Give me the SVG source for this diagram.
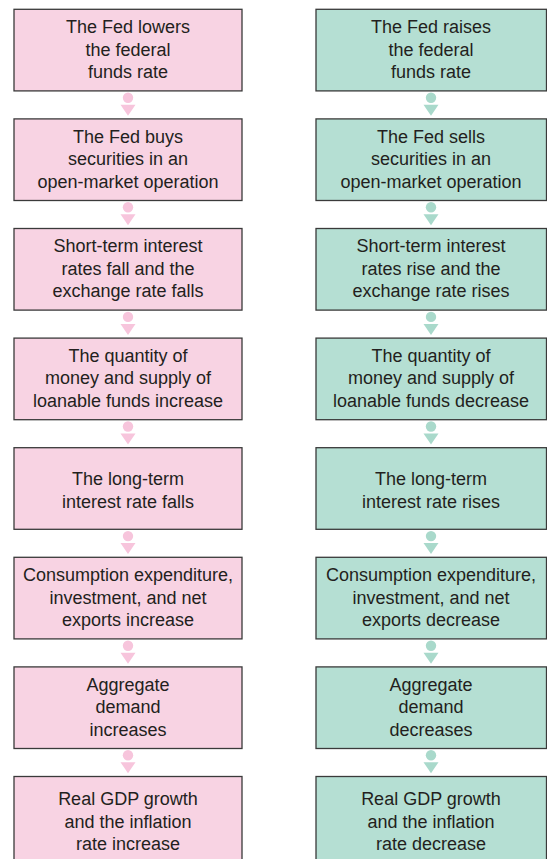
<svg xmlns="http://www.w3.org/2000/svg" width="547" height="859" viewBox="0 0 547 859">
<style>
.pk{fill:#f8d3e3;stroke:#3a3a3a;stroke-width:1.3}
.gr{fill:#b5dfd3;stroke:#3a3a3a;stroke-width:1.3}
.cp{fill:#f7c5dc}
.cg{fill:#a9d9cb}
text{font-family:"Liberation Sans",Arial,sans-serif;font-size:18px;fill:#231f20;text-anchor:middle}
</style>
<defs>
<g id="conP"><circle cx="0" cy="0" r="5.2" class="cp"/><path d="M-7.5,7 L7.5,7 L0,18 Z" class="cp"/></g>
<g id="conG"><circle cx="0" cy="0" r="5.2" class="cg"/><path d="M-7.5,7 L7.5,7 L0,18 Z" class="cg"/></g>
</defs>
<rect width="547" height="859" fill="#ffffff"/>
<g id="connectors">
<use href="#conP" x="128" y="97.7"/>
<use href="#conP" x="128" y="207.3"/>
<use href="#conP" x="128" y="316.9"/>
<use href="#conP" x="128" y="426.5"/>
<use href="#conP" x="128" y="536.1"/>
<use href="#conP" x="128" y="645.7"/>
<use href="#conP" x="128" y="755.3"/>
<use href="#conG" x="431" y="97.7"/>
<use href="#conG" x="431" y="207.3"/>
<use href="#conG" x="431" y="316.9"/>
<use href="#conG" x="431" y="426.5"/>
<use href="#conG" x="431" y="536.1"/>
<use href="#conG" x="431" y="645.7"/>
<use href="#conG" x="431" y="755.3"/>
</g>
<g id="L1"><rect class="pk" x="14" y="9.3" width="228" height="81.6"/><text x="128" y="33">The Fed lowers</text><text x="128" y="55.5">the federal</text><text x="128" y="78">funds rate</text></g>
<g id="L2"><rect class="pk" x="14" y="118.9" width="228" height="81.6"/><text x="128" y="142.6">The Fed buys</text><text x="128" y="165.1">securities in an</text><text x="128" y="187.6">open-market operation</text></g>
<g id="L3"><rect class="pk" x="14" y="228.5" width="228" height="81.6"/><text x="128" y="252.2">Short-term interest</text><text x="128" y="274.7">rates fall and the</text><text x="128" y="297.2">exchange rate falls</text></g>
<g id="L4"><rect class="pk" x="14" y="338.1" width="228" height="81.6"/><text x="128" y="361.8">The quantity of</text><text x="128" y="384.3">money and supply of</text><text x="128" y="406.8">loanable funds increase</text></g>
<g id="L5"><rect class="pk" x="14" y="447.7" width="228" height="81.6"/><text x="128" y="485">The long-term</text><text x="128" y="507.5">interest rate falls</text></g>
<g id="L6"><rect class="pk" x="14" y="557.3" width="228" height="81.6"/><text x="128" y="581">Consumption expenditure,</text><text x="128" y="603.5">investment, and net</text><text x="128" y="626">exports increase</text></g>
<g id="L7"><rect class="pk" x="14" y="666.9" width="228" height="81.6"/><text x="128" y="690.6">Aggregate</text><text x="128" y="713.1">demand</text><text x="128" y="735.6">increases</text></g>
<g id="L8"><rect class="pk" x="14" y="776.5" width="228" height="86"/><text x="128" y="805">Real GDP growth</text><text x="128" y="827.5">and the inflation</text><text x="128" y="850">rate increase</text></g>
<g id="R1"><rect class="gr" x="316" y="9.3" width="230.5" height="81.6"/><text x="431" y="33">The Fed raises</text><text x="431" y="55.5">the federal</text><text x="431" y="78">funds rate</text></g>
<g id="R2"><rect class="gr" x="316" y="118.9" width="230.5" height="81.6"/><text x="431" y="142.6">The Fed sells</text><text x="431" y="165.1">securities in an</text><text x="431" y="187.6">open-market operation</text></g>
<g id="R3"><rect class="gr" x="316" y="228.5" width="230.5" height="81.6"/><text x="431" y="252.2">Short-term interest</text><text x="431" y="274.7">rates rise and the</text><text x="431" y="297.2">exchange rate rises</text></g>
<g id="R4"><rect class="gr" x="316" y="338.1" width="230.5" height="81.6"/><text x="431" y="361.8">The quantity of</text><text x="431" y="384.3">money and supply of</text><text x="431" y="406.8">loanable funds decrease</text></g>
<g id="R5"><rect class="gr" x="316" y="447.7" width="230.5" height="81.6"/><text x="431" y="485">The long-term</text><text x="431" y="507.5">interest rate rises</text></g>
<g id="R6"><rect class="gr" x="316" y="557.3" width="230.5" height="81.6"/><text x="431" y="581">Consumption expenditure,</text><text x="431" y="603.5">investment, and net</text><text x="431" y="626">exports decrease</text></g>
<g id="R7"><rect class="gr" x="316" y="666.9" width="230.5" height="81.6"/><text x="431" y="690.6">Aggregate</text><text x="431" y="713.1">demand</text><text x="431" y="735.6">decreases</text></g>
<g id="R8"><rect class="gr" x="316" y="776.5" width="230.5" height="86"/><text x="431" y="805">Real GDP growth</text><text x="431" y="827.5">and the inflation</text><text x="431" y="850">rate decrease</text></g>
</svg>
